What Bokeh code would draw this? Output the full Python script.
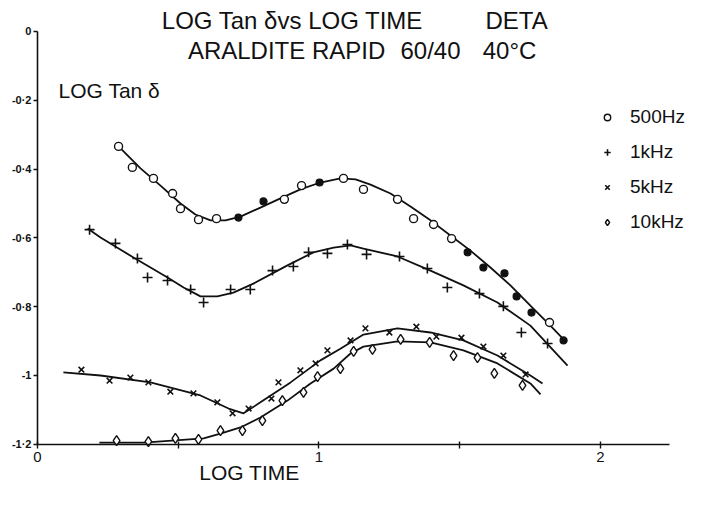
from bokeh.plotting import figure
from bokeh.models import Range1d, Label, Legend, LegendItem, FixedTicker
from bokeh.embed import file_html
from bokeh.resources import INLINE

# ---------------- data ----------------
# 500 Hz measured points (open / filled circles)
x500_open = [0.288, 0.337, 0.412, 0.480, 0.508, 0.572, 0.636, 0.877, 0.938, 1.087, 1.158, 1.279, 1.336, 1.407, 1.471, 1.819]
y500_open = [-0.334, -0.395, -0.427, -0.471, -0.515, -0.547, -0.544, -0.488, -0.448, -0.427, -0.459, -0.488, -0.544, -0.561, -0.602, -0.846]
x500_fill = [0.714, 0.803, 1.002, 1.528, 1.584, 1.659, 1.702, 1.755, 1.869]
y500_fill = [-0.541, -0.494, -0.439, -0.642, -0.686, -0.703, -0.770, -0.817, -0.898]
# 500 Hz fitted curve
x500_fit = [0.288, 0.366, 0.437, 0.508, 0.561, 0.615, 0.668, 0.721, 0.792, 0.863, 0.934, 1.005, 1.076, 1.130, 1.183, 1.254, 1.325, 1.396, 1.467, 1.538, 1.609, 1.680, 1.751, 1.822, 1.879]
y500_fit = [-0.334, -0.398, -0.448, -0.500, -0.532, -0.549, -0.549, -0.538, -0.512, -0.485, -0.459, -0.439, -0.427, -0.430, -0.445, -0.471, -0.509, -0.549, -0.593, -0.637, -0.686, -0.738, -0.797, -0.855, -0.904]

# 1 kHz measured points and fitted curve
x1k = [0.185, 0.277, 0.355, 0.391, 0.462, 0.544, 0.590, 0.686, 0.756, 0.835, 0.909, 0.963, 1.030, 1.101, 1.169, 1.286, 1.385, 1.456, 1.570, 1.655, 1.719, 1.812]
y1k = [-0.576, -0.616, -0.660, -0.715, -0.724, -0.750, -0.788, -0.750, -0.750, -0.695, -0.683, -0.642, -0.645, -0.619, -0.648, -0.654, -0.689, -0.744, -0.762, -0.799, -0.875, -0.907]
x1k_fit = [0.178, 0.224, 0.341, 0.462, 0.519, 0.579, 0.639, 0.696, 0.767, 0.888, 0.980, 1.052, 1.112, 1.158, 1.279, 1.396, 1.513, 1.634, 1.751, 1.883]
y1k_fit = [-0.573, -0.599, -0.657, -0.715, -0.744, -0.770, -0.770, -0.759, -0.733, -0.680, -0.642, -0.628, -0.622, -0.631, -0.654, -0.695, -0.738, -0.788, -0.855, -0.971]

# 5 kHz measured points and fitted curve
x5k = [0.156, 0.256, 0.330, 0.394, 0.472, 0.554, 0.639, 0.693, 0.750, 0.831, 0.856, 0.934, 0.988, 1.030, 1.112, 1.165, 1.250, 1.346, 1.417, 1.506, 1.584, 1.655, 1.734]
y5k = [-0.983, -1.015, -1.006, -1.020, -1.047, -1.052, -1.078, -1.110, -1.096, -1.067, -1.020, -0.985, -0.965, -0.927, -0.898, -0.863, -0.875, -0.858, -0.887, -0.890, -0.916, -0.942, -0.997]
x5k_fit = [0.092, 0.224, 0.401, 0.579, 0.679, 0.732, 0.792, 0.899, 1.005, 1.076, 1.158, 1.279, 1.396, 1.513, 1.634, 1.751, 1.794]
y5k_fit = [-0.991, -1.000, -1.020, -1.058, -1.096, -1.110, -1.078, -1.020, -0.956, -0.922, -0.881, -0.863, -0.875, -0.898, -0.942, -1.000, -1.023]

# 10 kHz measured points and fitted curve
x10k = [0.281, 0.394, 0.490, 0.572, 0.650, 0.728, 0.799, 0.870, 0.945, 0.995, 1.076, 1.123, 1.190, 1.290, 1.393, 1.478, 1.563, 1.623, 1.723]
y10k = [-1.189, -1.192, -1.183, -1.186, -1.160, -1.160, -1.131, -1.073, -1.049, -1.003, -0.980, -0.930, -0.924, -0.895, -0.904, -0.942, -0.948, -0.994, -1.029]
x10k_fit = [0.220, 0.377, 0.590, 0.650, 0.721, 0.792, 0.888, 0.970, 1.052, 1.112, 1.158, 1.279, 1.396, 1.513, 1.634, 1.751, 1.787]
y10k_fit = [-1.195, -1.195, -1.183, -1.169, -1.151, -1.122, -1.073, -1.023, -0.980, -0.936, -0.916, -0.901, -0.904, -0.927, -0.965, -1.023, -1.055]

# axes
x_ticks = [0, 0.5, 1, 1.5, 2]
x_tick_labels = ["0", "", "1", "", "2"]
y_ticks = [0, -0.2, -0.4, -0.6, -0.8, -1.0, -1.2]
y_tick_labels = ["0", "-0·2", "-0·4", "-0·6", "-0·8", "-1", "-1·2"]
series_names = ["500Hz", "1kHz", "5kHz", "10kHz"]

FONT = "Liberation Sans"
INK = "#111111"

p = figure(width=687, height=489, x_range=Range1d(-0.1314, 2.3091), y_range=Range1d(-1.3314, 0.0901),
           output_backend="svg", toolbar_location=None,
           min_border_left=0, min_border_right=0, min_border_top=0, min_border_bottom=0)
p.grid.visible = False
p.outline_line_color = None
p.background_fill_color = "white"
p.border_fill_color = "white"

for ax in (p.xaxis[0], p.yaxis[0]):
    ax.axis_line_color = INK
    ax.axis_line_width = 1.6
    ax.major_tick_line_color = INK
    ax.major_tick_line_width = 1.4
    ax.minor_tick_line_color = None
    ax.major_label_text_color = INK
    ax.major_label_text_font = FONT

p.xaxis.fixed_location = -1.2
p.xaxis.bounds = (0, 2.245)
p.xaxis.ticker = FixedTicker(ticks=x_ticks)
p.xaxis.major_label_overrides = {t: l for t, l in zip(x_ticks, x_tick_labels)}
p.xaxis.major_tick_in = 3
p.xaxis.major_tick_out = 4
p.xaxis.major_label_standoff = 4
p.xaxis.major_label_text_font_size = "15px"

p.yaxis.fixed_location = 0
p.yaxis.bounds = (-1.2, 0)
p.yaxis.ticker = FixedTicker(ticks=y_ticks)
p.yaxis.major_label_overrides = {t: l for t, l in zip(y_ticks, y_tick_labels)}
p.yaxis.major_tick_in = 0
p.yaxis.major_tick_out = 4
p.yaxis.major_label_standoff = 2
p.yaxis.major_label_text_font_size = "11px"
p.yaxis.major_label_text_font_style = "bold"

LW = 1.8
p.line(x500_fit, y500_fit, line_color=INK, line_width=LW)
p.line(x1k_fit, y1k_fit, line_color=INK, line_width=LW)
p.line(x5k_fit, y5k_fit, line_color=INK, line_width=LW)
p.line(x10k_fit, y10k_fit, line_color=INK, line_width=LW)

r500 = p.scatter(x500_open, y500_open, marker="circle", size=8, line_color=INK, line_width=1.4, fill_color="white")
p.scatter(x500_fill, y500_fill, marker="circle", size=7, line_color=INK, line_width=1.2, fill_color=INK)
r1k = p.scatter(x1k, y1k, marker="cross", size=10, line_color=INK, line_width=1.6)
r5k = p.scatter(x5k, y5k, marker="x", size=8, line_color=INK, line_width=1.6)
r10k = p.scatter(x10k, y10k, marker="diamond", size=10, line_color=INK, line_width=1.4, fill_color="white")

legend = Legend(items=[LegendItem(label=n, renderers=[r]) for n, r in zip(series_names, [r500, r1k, r5k, r10k])],
                location=(599, 255), background_fill_alpha=0, border_line_color=None,
                label_text_font=FONT, label_text_font_size="19px", label_text_color=INK,
                glyph_width=16, glyph_height=24, label_height=24, spacing=11, padding=0, margin=0,
                label_standoff=15)
p.add_layout(legend)

def lab(x, y, t, size="24px", align="center"):
    p.add_layout(Label(x=x, y=y, text=t, text_font=FONT, text_font_size=size, text_color=INK,
                       text_baseline="middle", text_align=align))

# title (word groups centred where they sit in the original lettering)
lab(0.906, 0.032, "LOG Tan δvs LOG TIME")
lab(1.702, 0.032, "DETA")
lab(0.885, -0.055, "ARALDITE RAPID")
lab(1.396, -0.055, "60/40")
lab(1.677, -0.055, "40°C")
lab(0.075, -0.172, "LOG Tan δ", size="21px", align="left")
lab(0.753, -1.282, "LOG TIME", size="21px")

open("out.html", "w").write(file_html(p, INLINE))
